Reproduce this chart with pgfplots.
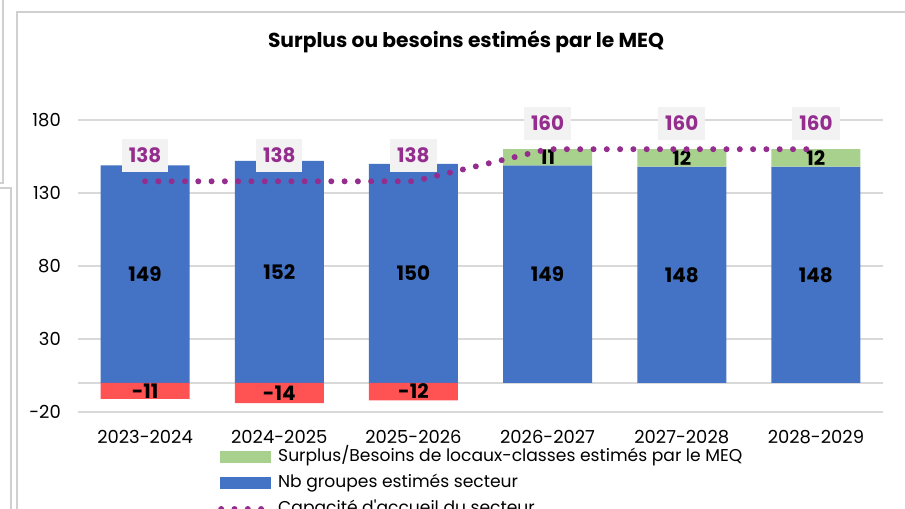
\documentclass[border=0pt]{standalone}
\usepackage{pgfplots}
\pgfplotsset{compat=1.18}
\usepackage{fontspec}
\setmainfont{Poppins}
\definecolor{barblue}{HTML}{4472C4}
\definecolor{bargreen}{HTML}{A9D18E}
\definecolor{barred}{HTML}{FF5252}
\definecolor{linepurple}{HTML}{952D8E}
\definecolor{gridgray}{HTML}{D9D9D9}
\definecolor{framegray}{HTML}{D0D0D0}
\definecolor{labelbg}{HTML}{F2F2F2}
\begin{document}
\begin{tikzpicture}
\path[use as bounding box] (0,0) rectangle (905bp,509bp);
\clip (0,0) rectangle (905bp,509bp);
\fill[white] (0,0) rectangle (905bp,509bp);
\draw[framegray, line width=1.5bp] (3bp,509bp) -- (3bp,326bp) -- (0bp,326bp);
\draw[framegray, line width=1.5bp] (0bp,321bp) -- (11bp,321bp) -- (11bp,0bp);
\draw[framegray, line width=1.5bp] (17bp,0bp) -- (17bp,497bp) -- (906bp,497bp);
\node[font=\bfseries\fontsize{20.3}{24}\selectfont] at (466bp,467bp) {Surplus ou besoins estimés par le MEQ};
\begin{axis}[
  at={(78bp,97bp)}, anchor=south west,
  scale only axis, width=805bp, height=292bp,
  ymin=-20, ymax=180, xmin=-0.5, xmax=5.5,
  clip=false,
  ybar stacked, reverse stacked plots=false, bar width=89bp,
  /pgf/number format/assume math mode=true,
  ytick={-20,30,80,130,180},
  yticklabels={-20,30,80,130,180},
  xtick={0,1,2,3,4,5},
  xticklabels={2023-2024,2024-2025,2025-2026,2026-2027,2027-2028,2028-2029},
  axis line style={draw=none},
  major tick length=0pt,
  ymajorgrids, grid style={gridgray, line width=1.5bp},
  extra y ticks={0}, extra y tick labels={},
  extra y tick style={ymajorgrids=true, grid style={gridgray, line width=1.5bp}},
  ticklabel style={font=\fontsize{18}{22}\selectfont, inner sep=0pt},
  yticklabel style={anchor=east, xshift=-17bp},
  xticklabel style={anchor=center, yshift=-25bp},
  legend style={at={(0.1739,-0.2432)}, anchor=west, draw=none, fill=none,
    inner sep=0pt, row sep=9bp, column sep=7bp,
    font=\fontsize{17.2}{21}\selectfont,
    nodes={inner sep=0pt, text height=13bp, text depth=4bp}},
  legend cell align=left,
  barlabel/.style={every node near coord/.style={anchor=center,
      font=\bfseries\fontsize{20}{24}\selectfont, text=black}},
]
\addlegendimage{legend image code/.code={\fill[bargreen] (0bp,-5.5bp) rectangle (50bp,5.5bp);}}
\addlegendentry{Surplus/Besoins de locaux-classes estimés par le MEQ}
\addlegendimage{legend image code/.code={\fill[barblue] (0bp,-5.5bp) rectangle (50bp,5.5bp);}}
\addlegendentry{Nb groupes estimés secteur}
\addlegendimage{legend image code/.code={\draw[linepurple, line width=6bp, line cap=round, dash pattern=on 0pt off 13.3bp] (1bp,0bp) -- (48bp,0bp);}}
\addlegendentry{Capacité d\textquotesingle accueil du secteur}

\addplot[forget plot, fill=barblue, draw=none, nodes near coords, point meta=rawy, barlabel]
  coordinates {(0,149) (1,152) (2,150) (3,149) (4,148) (5,148)};
\addplot[forget plot, fill=bargreen, draw=none, nodes near coords, point meta=explicit symbolic, barlabel]
  coordinates {(0,0) [] (1,0) [] (2,0) [] (3,11) [11] (4,12) [12] (5,12) [12]};
\addplot[forget plot, stack plots=false, fill=barred, draw=none, nodes near coords, point meta=rawy, barlabel]
  coordinates {(0,-11) (1,-14) (2,-12)};
\end{axis}
\begin{axis}[
  at={(78bp,97bp)}, anchor=south west,
  scale only axis, width=805bp, height=292bp,
  ymin=-20, ymax=180, xmin=-0.5, xmax=5.5,
  clip=false, hide axis,
  /pgf/number format/assume math mode=true,
]
\addplot[sharp plot, linepurple, line width=6bp, line cap=round,
  dash pattern=on 0pt off 13.3bp, mark=none, nodes near coords, point meta=y,
  every node near coord/.style={anchor=center, yshift=26bp, fill=labelbg, text=linepurple,
    inner xsep=7bp, inner ysep=9bp, font=\bfseries\fontsize{20}{24}\selectfont}]
  coordinates {(0,138) (1,138) (2,138) (3,160) (4,160) (5,160)};
\end{axis}
\end{tikzpicture}
\end{document}
